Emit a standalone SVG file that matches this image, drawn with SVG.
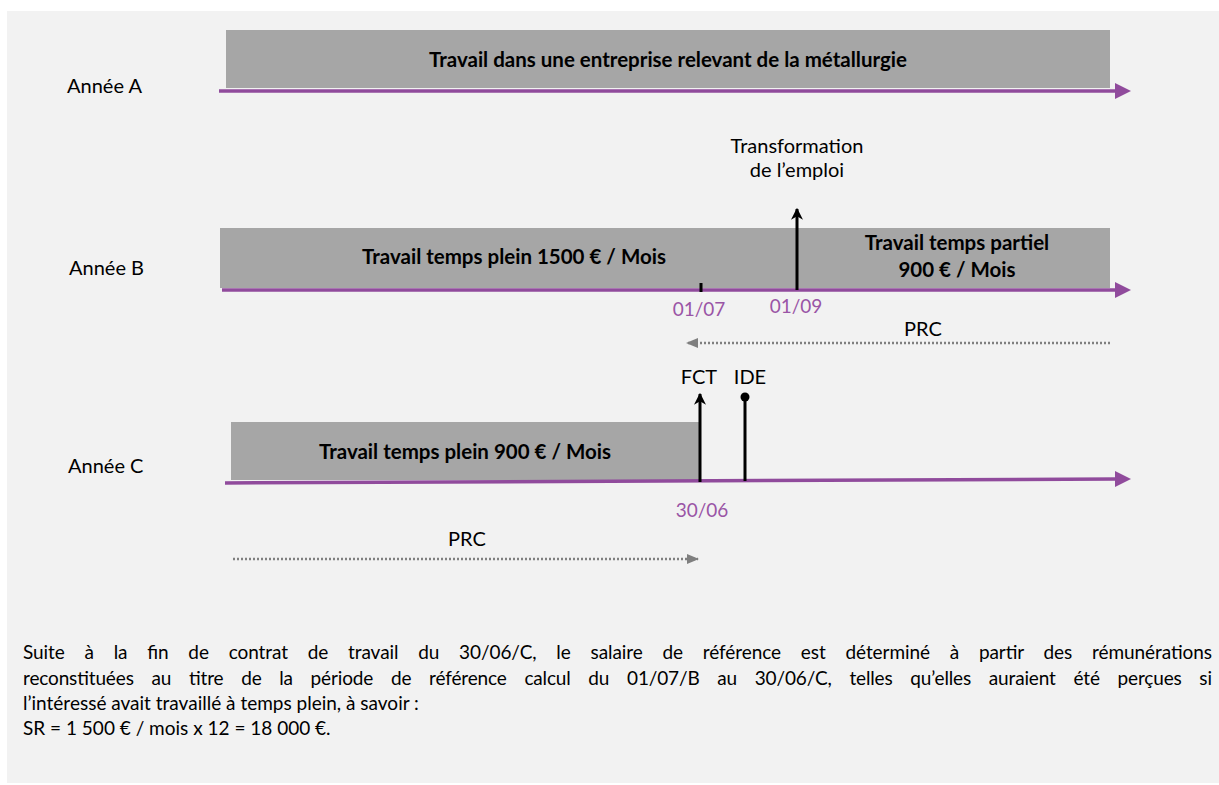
<svg xmlns="http://www.w3.org/2000/svg" width="1219" height="785" viewBox="0 0 1219 785">
<style>
.lbl{font-family:Lato,"Liberation Sans",sans-serif;font-size:20px;fill:#000}
.bold{font-family:Lato,"Liberation Sans",sans-serif;font-size:20.5px;font-weight:bold;fill:#000}
.date{font-family:Lato,"Liberation Sans",sans-serif;font-size:19px;fill:#9a55a6}
.body{font-family:Lato,"Liberation Sans",sans-serif;font-size:19px;fill:#000}
.bar{fill:#a6a6a6}
.axis{stroke:#904b9c;stroke-width:3.5;fill:none}
.head{fill:#904b9c}
.evt{stroke:#000;stroke-width:3;fill:none}
.prc{stroke:#7f7f7f;stroke-width:2.5;stroke-dasharray:2 2;fill:none}
</style>
<defs>
<marker id="blk" viewBox="0 0 10 10" refX="9" refY="5" markerWidth="4" markerHeight="4" orient="auto-start-reverse" markerUnits="strokeWidth">
<path d="M0,0 L10,5 L0,10 L3,5 z" fill="#000"/>
</marker>
<marker id="gry" viewBox="0 0 10 10" refX="9" refY="5" markerWidth="5" markerHeight="5" orient="auto-start-reverse" markerUnits="strokeWidth">
<path d="M0,1 L10,5 L0,9 z" fill="#7f7f7f"/>
</marker>
</defs>
<rect x="7" y="11" width="1212" height="772" fill="#f2f2f2"/>

<g id="rowA">
<text class="lbl" x="67" y="93">Année A</text>
<rect class="bar" x="226" y="30" width="884" height="58"/>
<text class="bold" x="668" y="67" text-anchor="middle">Travail dans une entreprise relevant de la métallurgie</text>
</g>

<g id="rowB">
<text class="lbl" x="69" y="275">Année B</text>
<rect class="bar" x="220" y="228" width="890" height="60"/>
<text class="bold" x="514" y="264" text-anchor="middle">Travail temps plein 1500 € / Mois</text>
<text class="bold" x="957" y="250" text-anchor="middle">Travail temps partiel</text>
<text class="bold" x="957" y="277" text-anchor="middle">900 € / Mois</text>
<text class="date" x="699" y="316" text-anchor="middle">01/07</text>
<text class="date" x="796" y="313" text-anchor="middle">01/09</text>
<text class="lbl" x="797" y="153" text-anchor="middle">Transformation</text>
<text class="lbl" x="797" y="177" text-anchor="middle">de l’emploi</text>
<text class="lbl" x="923" y="336" text-anchor="middle">PRC</text>
</g>

<g id="rowC">
<text class="lbl" x="68" y="473">Année C</text>
<rect class="bar" x="231" y="422" width="468" height="58"/>
<text class="bold" x="465" y="459" text-anchor="middle">Travail temps plein 900 € / Mois</text>
<text class="lbl" x="699" y="384" text-anchor="middle">FCT</text>
<text class="lbl" x="750" y="384" text-anchor="middle">IDE</text>
<text class="date" x="702" y="517" text-anchor="middle">30/06</text>
<text class="lbl" x="467" y="546" text-anchor="middle">PRC</text>
</g>

<g id="connectors">
<line class="axis" x1="219" y1="91" x2="1117" y2="91"/>
<polygon class="head" points="1115,83 1131,91 1115,99"/>
<line class="axis" x1="222" y1="290" x2="1117" y2="290"/>
<polygon class="head" points="1115,282 1131,290 1115,298"/>
<line class="axis" x1="225" y1="483" x2="1117" y2="479"/>
<polygon class="head" points="1115,471 1131,479 1115,487"/>
<line class="evt" x1="701" y1="283" x2="701" y2="292"/>
<line class="evt" x1="797" y1="290" x2="797" y2="209" marker-end="url(#blk)"/>
<line class="evt" x1="700" y1="482" x2="700" y2="394" marker-end="url(#blk)"/>
<line class="evt" x1="745" y1="481" x2="745" y2="397"/>
<circle cx="745" cy="397" r="4.5" fill="#000"/>
<line class="prc" x1="1110" y1="343" x2="687" y2="343" marker-end="url(#gry)"/>
<line class="prc" x1="233" y1="559" x2="698" y2="559" marker-end="url(#gry)"/>
</g>

<g id="note">
<text class="body" x="23" y="659" word-spacing="15" textLength="1189" lengthAdjust="spacing">Suite à la fin de contrat de travail du 30/06/C, le salaire de référence est déterminé à partir des rémunérations</text>
<text class="body" x="23" y="685" word-spacing="13" textLength="1189" lengthAdjust="spacing">reconstituées au titre de la période de référence calcul du 01/07/B au 30/06/C, telles qu’elles auraient été perçues si</text>
<text class="body" x="23" y="710">l’intéressé avait travaillé à temps plein, à savoir :</text>
<text class="body" x="23" y="735">SR = 1 500 € / mois x 12 = 18 000 €.</text>
</g>
</svg>
